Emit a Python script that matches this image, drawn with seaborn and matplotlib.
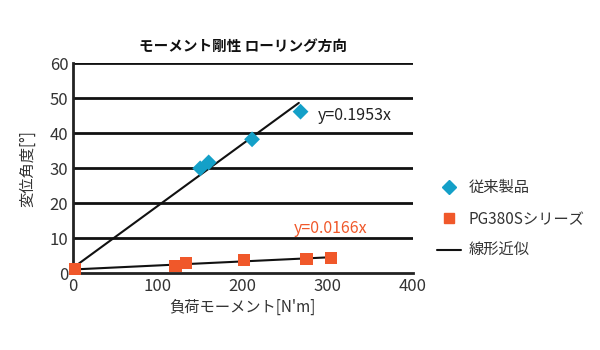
import matplotlib
matplotlib.use("Agg")
import matplotlib.pyplot as plt
import seaborn as sns
import pandas as pd
from matplotlib.lines import Line2D

# Data
conv_x = [150, 160, 211, 268]
conv_y = [30.0, 31.7, 38.3, 46.2]
pg_x = [3, 121, 133, 201, 275, 304]
pg_y = [1.3, 2.1, 2.9, 3.7, 4.1, 4.5]
fit_conv_x = [0, 266]
fit_conv_y = [1.5, 48.7]
fit_pg_x = [0, 303]
fit_pg_y = [1.1, 4.6]

title = "モーメント剛性 ローリング方向"
xlabel = "負荷モーメント[N'm]"
ylabel = "変位角度[°]"
labels = ["従来製品", "PG380Sシリーズ", "線形近似"]
eq_conv = "y=0.1953x"
eq_pg = "y=0.0166x"

sns.set_theme(style="white")
plt.rcParams['font.family'] = ['Noto Sans CJK JP', 'DejaVu Sans']

blue = "#14a0c8"
orange = "#f0582a"
text_c = "#333333"

fig = plt.figure(figsize=(6, 3.5), dpi=100)
ax = fig.add_axes([0.121, 0.219, 0.567, 0.600])

for yv in range(10, 70, 10):
    ax.axhline(yv, color="#111111", lw=2.0, zorder=1)

sns.lineplot(x=fit_conv_x, y=fit_conv_y, color="#111111", lw=1.5, ax=ax, zorder=2)
sns.lineplot(x=fit_pg_x, y=fit_pg_y, color="#111111", lw=1.5, ax=ax, zorder=2)
sns.scatterplot(x=conv_x, y=conv_y, marker="D", s=65, color=blue, edgecolor="none", ax=ax, zorder=3)
sns.scatterplot(x=pg_x, y=pg_y, marker="s", s=75, color=orange, edgecolor="none", ax=ax, zorder=3, clip_on=False)

ax.set_xlim(0, 400)
ax.set_ylim(0, 60)
ax.set_xticks([0, 100, 200, 300, 400])
ax.set_yticks([0, 10, 20, 30, 40, 50, 60])
ax.tick_params(axis="both", length=0, labelsize=12, colors=text_c, pad=3)
for s in ["top", "right"]:
    ax.spines[s].set_visible(False)
for s in ["left", "bottom"]:
    ax.spines[s].set_color("#222222")
    ax.spines[s].set_linewidth(2.0)

ax.set_title(title, fontsize=10.5, fontweight="bold", color="#111111", pad=9)
ax.set_xlabel(xlabel, fontsize=11, color=text_c, labelpad=3)
ax.set_ylabel(ylabel, fontsize=11, color=text_c, labelpad=10)

ax.text(288, 45.2, eq_conv, fontsize=11.5, color="#222222", va="center", ha="left")
ax.text(260, 12.9, eq_pg, fontsize=11.5, color=orange, va="center", ha="left")

handles = [
    Line2D([], [], marker="D", color=blue, ls="none", markersize=7),
    Line2D([], [], marker="s", color=orange, ls="none", markersize=6.5),
    Line2D([], [], color="#111111", lw=1.5),
]
leg = fig.legend(handles, labels, loc="upper left", bbox_to_anchor=(0.705, 0.527),
                 frameon=False, fontsize=11, handlelength=1.6, labelspacing=0.95,
                 handletextpad=0.5)
for t in leg.get_texts():
    t.set_color(text_c)

fig.savefig("out.png", dpi=100)
